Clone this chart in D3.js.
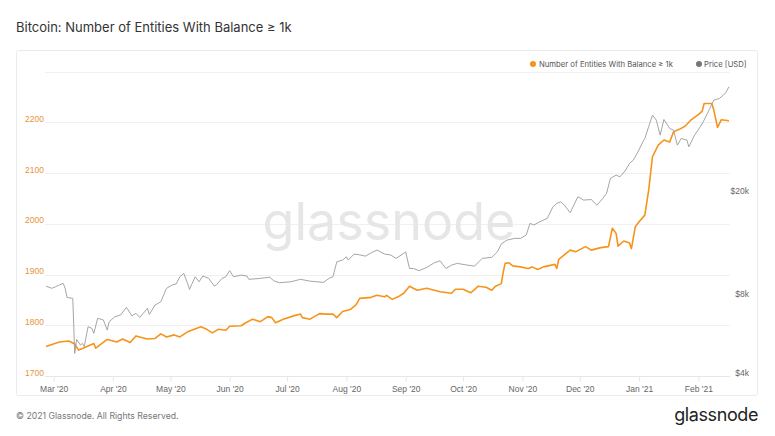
<!DOCTYPE html>
<html>
<head>
  <meta charset="utf-8">
  <title>Bitcoin: Number of Entities With Balance ≥ 1k</title>
  <script src="https://cdn.jsdelivr.net/npm/d3@7"></script>
  <style>
    body { margin: 0; background: #fff; }
    svg { display: block; font-family: Inter, "Noto Sans", sans-serif; }
  </style>
</head>
<body>
<div id="chart"></div>
<script>

  // entities with balance >= 1k BTC
  var entityDates = ['2020-02-26','2020-03-04','2020-03-09','2020-03-12','2020-03-14','2020-03-16','2020-03-22','2020-03-23',
    '2020-03-29','2020-04-03','2020-04-06','2020-04-10','2020-04-13','2020-04-19','2020-04-23','2020-04-26','2020-04-29',
    '2020-05-03','2020-05-06','2020-05-10','2020-05-17','2020-05-20','2020-05-23','2020-05-26','2020-05-30','2020-06-01',
    '2020-06-07','2020-06-09','2020-06-13','2020-06-17','2020-06-21','2020-06-23','2020-06-25','2020-06-29','2020-07-04',
    '2020-07-08','2020-07-09','2020-07-13','2020-07-18','2020-07-22','2020-07-25','2020-07-27','2020-07-30','2020-08-03',
    '2020-08-06','2020-08-08','2020-08-14','2020-08-17','2020-08-21','2020-08-22','2020-08-25','2020-08-28','2020-08-31',
    '2020-09-03','2020-09-07','2020-09-12','2020-09-16','2020-09-19','2020-09-25','2020-09-27','2020-10-01','2020-10-05',
    '2020-10-09','2020-10-13','2020-10-16','2020-10-18','2020-10-21','2020-10-22','2020-10-23','2020-10-25','2020-10-27',
    '2020-10-31','2020-11-04','2020-11-06','2020-11-09','2020-11-12','2020-11-18','2020-11-19','2020-11-20','2020-11-26',
    '2020-11-29','2020-12-04','2020-12-07','2020-12-12','2020-12-16','2020-12-18','2020-12-20','2020-12-21','2020-12-24',
    '2020-12-27','2020-12-28','2020-12-30','2021-01-01','2021-01-04','2021-01-06','2021-01-08','2021-01-11','2021-01-14',
    '2021-01-17','2021-01-19','2021-01-22','2021-01-25','2021-01-28','2021-02-01','2021-02-03','2021-02-04','2021-02-08',
    '2021-02-09','2021-02-11','2021-02-13','2021-02-17'];
  var entityValues = [1758,1767,1769,1763,1751,1754,1764,1755,
    1772,1767,1773,1766,1779,1773,1774,1783,1777,
    1781,1777,1787,1797,1792,1785,1792,1790,1798,
    1799,1804,1812,1807,1817,1815,1805,1812,1818,
    1822,1815,1812,1823,1822,1822,1815,1827,1831,
    1840,1853,1855,1859,1856,1859,1851,1856,1863,
    1877,1869,1873,1869,1866,1863,1871,1871,1864,
    1877,1875,1869,1877,1882,1905,1922,1923,1917,
    1915,1912,1915,1910,1915,1920,1912,1930,1948,
    1945,1955,1948,1953,1955,1991,1981,1956,1966,
    1962,1951,1994,2004,2017,2066,2132,2155,2165,
    2161,2181,2186,2192,2204,2215,2222,2237,2237,
    2225,2190,2205,2203];

  // BTC price [USD]
  var priceDates = ['2020-02-26','2020-02-29','2020-03-02','2020-03-04','2020-03-06','2020-03-07','2020-03-08','2020-03-11',
    '2020-03-12','2020-03-13','2020-03-15','2020-03-16','2020-03-17','2020-03-19','2020-03-21','2020-03-22','2020-03-24',
    '2020-03-27','2020-03-29','2020-03-30','2020-04-02','2020-04-05','2020-04-08','2020-04-11','2020-04-13','2020-04-15',
    '2020-04-19','2020-04-20','2020-04-23','2020-04-26','2020-04-29','2020-05-02','2020-05-04','2020-05-06','2020-05-08',
    '2020-05-10','2020-05-11','2020-05-14','2020-05-16','2020-05-18','2020-05-21','2020-05-24','2020-05-25','2020-05-28',
    '2020-05-30','2020-06-01','2020-06-03','2020-06-07','2020-06-10','2020-06-11','2020-06-17','2020-06-22','2020-06-24',
    '2020-06-27','2020-07-03','2020-07-08','2020-07-13','2020-07-20','2020-07-23','2020-07-25','2020-07-27','2020-07-30',
    '2020-08-01','2020-08-02','2020-08-05','2020-08-08','2020-08-11','2020-08-14','2020-08-17','2020-08-21','2020-08-24',
    '2020-08-27','2020-08-31','2020-09-01','2020-09-03','2020-09-05','2020-09-08','2020-09-12','2020-09-16','2020-09-19',
    '2020-09-22','2020-09-25','2020-09-28','2020-10-03','2020-10-07','2020-10-11','2020-10-16','2020-10-19','2020-10-21',
    '2020-10-24','2020-10-28','2020-10-31','2020-11-03','2020-11-05','2020-11-07','2020-11-10','2020-11-14','2020-11-17',
    '2020-11-19','2020-11-21','2020-11-23','2020-11-26','2020-11-30','2020-12-03','2020-12-07','2020-12-10','2020-12-13',
    '2020-12-15','2020-12-17','2020-12-20','2020-12-22','2020-12-25','2020-12-27','2020-12-29','2020-12-31','2021-01-03',
    '2021-01-04','2021-01-06','2021-01-08','2021-01-10','2021-01-12','2021-01-14','2021-01-17','2021-01-19','2021-01-21',
    '2021-01-23','2021-01-26','2021-01-27','2021-01-30','2021-02-02','2021-02-04','2021-02-07','2021-02-09','2021-02-12',
    '2021-02-14','2021-02-15','2021-02-17'];
  var priceValues = [8870,8700,8820,8960,9090,8700,8020,7960,
    4890,5530,5260,5340,5190,6190,6100,5840,6670,
    6570,6010,6470,6760,6870,7350,6810,6970,6720,
    7280,6900,7500,7720,8700,8960,9040,9640,9930,
    9090,8620,9640,9220,9700,9500,8870,8960,9500,
    9640,10170,9640,9780,9700,9420,9500,9600,9300,
    9140,9220,9420,9270,9170,9500,9640,11000,11170,
    11500,11170,11780,11700,11570,11920,12210,11780,11700,
    11340,11860,12000,10370,10370,10170,10470,10910,11100,
    10370,10690,10850,10690,10590,11340,11450,12030,12900,
    13340,13540,13540,13940,15470,15240,15680,16170,17920,
    18460,18720,18180,16990,19580,19010,19100,18180,19290,
    20170,23020,23720,23370,24800,26300,27100,28760,31850,
    32820,36410,40360,38600,33800,38830,35870,35330,30920,
    32820,32340,30480,33800,36410,38600,42840,46100,46780,
    48200,48900,51860];

  var entityTicks = [1700, 1800, 1900, 2000, 2100, 2200, 2300];
  var entityLabels = ['1700', '1800', '1900', '2000', '2100', '2200', ''];
  var priceTicks = [4000, 8000, 20000];
  var priceTickLabels = ['$4k', '$8k', '$20k'];
  var monthTicks = ['2020-03-01','2020-04-01','2020-05-01','2020-06-01','2020-07-01','2020-08-01','2020-09-01',
    '2020-10-01','2020-11-01','2020-12-01','2021-01-01','2021-02-01'];
  var monthLabels = ["Mar '20","Apr '20","May '20","Jun '20","Jul '20","Aug '20","Sep '20",
    "Oct '20","Nov '20","Dec '20","Jan '21","Feb '21"];

  var w = 775,
      h = 436;
  var orange = '#f7931a',
      grey = '#9b9b9b';

  var parse = d3.timeParse('%Y-%m-%d');
  var entities = entityDates.map(function(d, i){ return {date: parse(d), value: entityValues[i]}; });
  var prices = priceDates.map(function(d, i){ return {date: parse(d), value: priceValues[i]}; });

  var plot = {left: 46, right: 729, top: 71.5, bottom: 376};

  var x = d3.scaleTime()
      .domain([parse('2020-02-26'), parse('2021-02-17')])
      .range([plot.left, plot.right]);
  var yLeft = d3.scaleLinear()
      .domain([1700, 2300])
      .range([plot.bottom, plot.top]);
  var yRight = d3.scaleLog()
      .domain([4000, 59400])
      .range([plot.bottom, plot.top]);

  var svg = d3.select('#chart').append('svg')
      .attr('width', w)
      .attr('height', h);

  svg.append('rect').attr('width', w).attr('height', h).attr('fill', '#fff');

  // title
  svg.append('text')
      .attr('x', 16).attr('y', 32)
      .attr('font-size', 13)
      .attr('fill', '#333')
      .text('Bitcoin: Number of Entities With Balance ≥ 1k');

  // card
  svg.append('rect')
      .attr('x', 16.5).attr('y', 50.5)
      .attr('width', 741).attr('height', 345)
      .attr('rx', 2)
      .attr('fill', 'none')
      .attr('stroke', '#ebebeb');

  // gridlines
  svg.append('g').selectAll('line')
      .data(entityTicks)
      .enter().append('line')
      .attr('x1', plot.left - 1).attr('x2', plot.right + 1)
      .attr('y1', function(d){ return Math.round(yLeft(d)) + 0.5; })
      .attr('y2', function(d){ return Math.round(yLeft(d)) + 0.5; })
      .attr('stroke', function(d){ return d === 1700 ? '#e6e6e6' : '#f0f0f0'; });

  // watermark
  var wm = svg.append('text')
      .attr('x', 389).attr('y', 240)
      .attr('text-anchor', 'middle')
      .attr('font-size', 56)
      .attr('fill', '#e6e6e6')
      .text('glassnode');
  var wmLen = wm.node().getComputedTextLength();
  wm.attr('font-size', 56 * 253 / wmLen);

  // x axis
  var xAxis = d3.axisBottom(x)
      .tickValues(monthTicks.map(parse))
      .tickFormat(function(d, i){ return monthLabels[i]; })
      .tickSize(5)
      .tickPadding(4);
  var gx = svg.append('g')
      .attr('transform', 'translate(0,' + (Math.round(plot.bottom) + 0.5) + ')')
      .call(xAxis);
  gx.select('.domain').remove();
  gx.selectAll('line').attr('stroke', '#e6e6e6');
  gx.selectAll('text').attr('fill', '#666').attr('font-size', 8.5).attr('font-family', null);

  // left axis
  var gl = svg.append('g')
      .attr('transform', 'translate(44,0)')
      .call(d3.axisLeft(yLeft).tickValues(entityTicks)
        .tickFormat(function(d, i){ return entityLabels[i]; })
        .tickSize(0).tickPadding(0));
  gl.select('.domain').remove();
  gl.selectAll('text').attr('fill', '#e8953a').attr('font-size', 8.5).attr('font-family', null)
      .attr('dy', '-0.1em');

  // right axis
  var gr = svg.append('g')
      .attr('transform', 'translate(749,0)')
      .call(d3.axisLeft(yRight).tickValues(priceTicks)
        .tickFormat(function(d, i){ return priceTickLabels[i]; })
        .tickSize(0).tickPadding(0));
  gr.select('.domain').remove();
  gr.selectAll('text').attr('fill', '#666').attr('font-size', 8.5).attr('font-family', null)
      .attr('dy', '-0.1em');

  // series
  var entityLine = d3.line()
      .x(function(d){ return x(d.date); })
      .y(function(d){ return yLeft(d.value); });
  var priceLine = d3.line()
      .x(function(d){ return x(d.date); })
      .y(function(d){ return yRight(d.value); });

  svg.append('path')
      .datum(entities)
      .attr('d', entityLine)
      .attr('fill', 'none')
      .attr('stroke', orange)
      .attr('stroke-width', 1.6)
      .attr('stroke-linejoin', 'round');

  svg.append('path')
      .datum(prices)
      .attr('d', priceLine)
      .attr('fill', 'none')
      .attr('stroke', grey)
      .attr('stroke-width', 0.9)
      .attr('stroke-linejoin', 'round');

  // legend
  var legend = svg.append('g').attr('font-size', 7.7).attr('fill', '#555');
  legend.append('circle').attr('cx', 533).attr('cy', 64).attr('r', 3).attr('fill', orange);
  legend.append('text').attr('x', 539).attr('y', 67).text('Number of Entities With Balance ≥ 1k');
  legend.append('circle').attr('cx', 699).attr('cy', 64).attr('r', 3).attr('fill', '#777');
  legend.append('text').attr('x', 704).attr('y', 67).text('Price [USD]');

  // footer
  svg.append('text')
      .attr('x', 16).attr('y', 419)
      .attr('font-size', 8.7)
      .attr('fill', '#777')
      .text('© 2021 Glassnode. All Rights Reserved.');
  svg.append('text')
      .attr('x', 758).attr('y', 421)
      .attr('text-anchor', 'end')
      .attr('font-size', 18)
      .attr('font-weight', 400)
      .attr('fill', '#222')
      .attr('letter-spacing', -0.4)
      .text('glassnode');

</script>
</body>
</html>
